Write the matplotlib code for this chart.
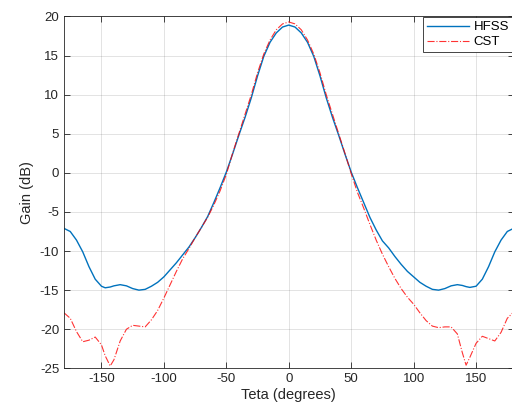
import matplotlib
matplotlib.use('Agg')
import matplotlib.pyplot as plt
import numpy as np

# Theta angles (degrees) and gain (dB)
theta = [-180, -175, -170, -165, -160, -155, -150, -147, -143, -140, -135,
         -130, -125, -120, -115, -110, -105, -100, -95, -90, -85, -80, -75,
         -70, -65, -60, -55, -50, -45, -40, -35, -30, -25, -20, -15, -10, -5,
         0, 5, 10, 15, 20, 25, 30, 35, 40, 45, 50, 55, 60, 65, 70, 75, 80, 85,
         90, 95, 100, 105, 110, 115, 120, 125, 130, 135, 139, 142, 145, 150,
         155, 160, 165, 170, 175, 180]

hfss = [-7.1, -7.5, -8.6, -10.1, -12.0, -13.6, -14.5, -14.7, -14.6, -14.45,
        -14.3, -14.45, -14.8, -15.0, -14.9, -14.5, -14.0, -13.3, -12.4, -11.5,
        -10.5, -9.5, -8.3, -7.0, -5.6, -3.8, -1.9, 0.1, 2.4, 4.8, 7.1, 9.6,
        12.4, 14.9, 16.7, 17.9, 18.65, 18.9,
        18.65, 17.9, 16.7, 14.9, 12.4, 9.6, 7.1, 4.8, 2.4, 0.1, -1.9, -3.8,
        -5.7, -7.3, -8.7, -9.6, -10.7, -11.7, -12.6, -13.3, -14.0, -14.5,
        -14.9, -15.0, -14.8, -14.45, -14.3, -14.4, -14.55, -14.65, -14.5,
        -13.6, -12.0, -10.1, -8.6, -7.5, -7.1]

cst = [-17.9, -18.6, -20.3, -21.6, -21.4, -21.0, -22.0, -23.4, -24.7, -23.9,
       -21.5, -20.0, -19.5, -19.6, -19.7, -18.8, -17.6, -16.0, -14.3, -12.6,
       -11.0, -9.7, -8.3, -7.0, -5.7, -4.1, -2.3, -0.2, 2.5, 5.0, 7.5, 10.0,
       12.8, 15.2, 17.0, 18.3, 19.05, 19.3,
       19.05, 18.3, 17.0, 15.2, 12.8, 10.0, 7.5, 5.0, 2.5, -0.1, -2.5, -4.5,
       -6.6, -8.6, -10.4, -12.0, -13.5, -14.8, -15.9, -16.8, -17.9, -18.9,
       -19.6, -19.8, -19.7, -19.7, -20.6, -23.0, -24.6, -23.6, -21.8, -20.9,
       -21.2, -21.5, -20.4, -18.6, -17.8]

plt.rcParams['font.family'] = ['Liberation Sans', 'DejaVu Sans']
plt.rcParams['axes.unicode_minus'] = False

fig = plt.figure(figsize=(5.12, 4.12), dpi=100)
ax = fig.add_axes([0.125, 0.106, 0.878, 0.854])

ax.plot(theta, hfss, color=(0, 0.447, 0.741), lw=1.0, label='HFSS')
ax.plot(theta, cst, color='red', ls='-.', lw=0.8, alpha=0.8, label='CST')

ax.set_xlim(-180, 180)
ax.set_ylim(-25, 20)
ax.set_xticks([-150, -100, -50, 0, 50, 100, 150])
ax.set_yticks(np.arange(-25, 21, 5))
ax.grid(True, color=(0.15, 0.15, 0.15), alpha=0.15, lw=0.6)
ax.tick_params(direction='in', length=4, width=0.6, colors=(0.15, 0.15, 0.15),
               labelsize=9.5, top=True, right=True)
for s in ax.spines.values():
    s.set_color((0.15, 0.15, 0.15))
    s.set_linewidth(0.6)

ax.set_xlabel('Teta (degrees)', fontsize=10.5, color=(0.15, 0.15, 0.15), labelpad=2)
ax.set_ylabel('Gain (dB)', fontsize=10.5, color=(0.15, 0.15, 0.15), labelpad=4)

leg = ax.legend(loc='upper right', fontsize=9.5, fancybox=False, framealpha=1,
                edgecolor=(0.15, 0.15, 0.15), borderaxespad=0.05,
                handlelength=3.2, handletextpad=0.3, borderpad=0.3,
                labelspacing=0.2)
leg.get_frame().set_linewidth(0.6)

plt.savefig('out.png', dpi=100)
